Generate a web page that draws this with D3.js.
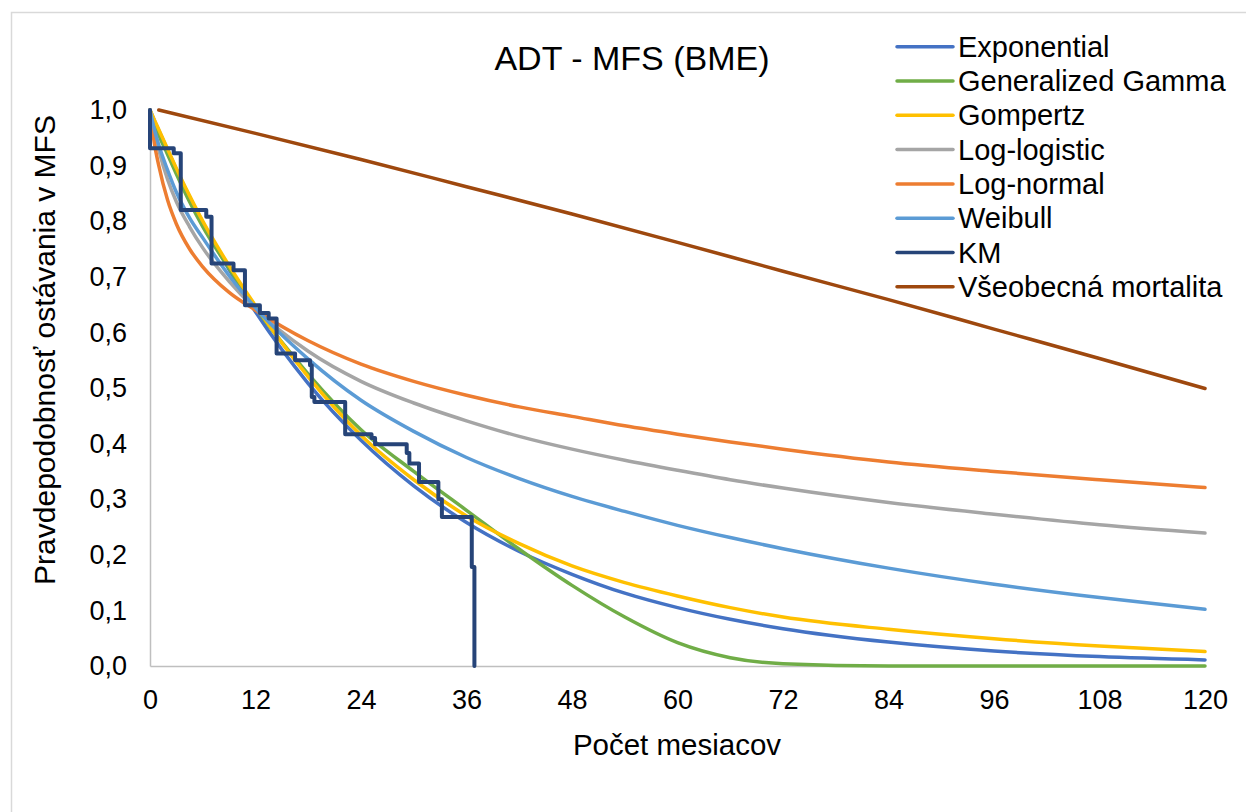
<!DOCTYPE html>
<html>
<head>
<meta charset="utf-8">
<script src="https://cdn.jsdelivr.net/npm/d3@7"></script>
<style>
  body { margin: 0; background: #fff; }
  svg text { font-family: "Liberation Sans", Arial, Helvetica, sans-serif; fill: #000; }
</style>
</head>
<body>
<svg id="chart" width="1246" height="812"></svg>
<script>
// Údaje odčítané z grafu
const months = [0, 0.5, 1, 2, 3, 4.5, 6, 9, 12, 18, 24, 30, 36, 42, 48, 54, 60, 66, 72, 84, 96, 108, 120];

const exponential = [1, 0.981, 0.963, 0.928, 0.893, 0.844, 0.798, 0.713, 0.637, 0.508, 0.406, 0.324, 0.258, 0.206, 0.165, 0.131, 0.105, 0.084, 0.067, 0.043, 0.027, 0.017, 0.011];
const genGamma = [1, 0.975, 0.955, 0.92, 0.885, 0.835, 0.79, 0.715, 0.645, 0.525, 0.425, 0.35, 0.28, 0.21, 0.145, 0.088, 0.042, 0.015, 0.004, 0, 0, 0, 0];
const gompertz = [1, 0.982, 0.965, 0.93, 0.895, 0.846, 0.8, 0.72, 0.648, 0.52, 0.415, 0.335, 0.27, 0.22, 0.18, 0.15, 0.126, 0.105, 0.088, 0.066, 0.049, 0.036, 0.026];
const logLogistic = [1, 0.96, 0.928, 0.875, 0.835, 0.79, 0.752, 0.692, 0.642, 0.566, 0.512, 0.473, 0.441, 0.413, 0.39, 0.37, 0.352, 0.335, 0.32, 0.294, 0.273, 0.254, 0.239];
const logNormal = [1, 0.94, 0.9, 0.838, 0.795, 0.75, 0.718, 0.672, 0.64, 0.585, 0.543, 0.512, 0.487, 0.466, 0.449, 0.432, 0.417, 0.403, 0.39, 0.367, 0.35, 0.335, 0.321];
const weibull = [1, 0.965, 0.937, 0.892, 0.852, 0.806, 0.77, 0.702, 0.644, 0.552, 0.478, 0.422, 0.375, 0.337, 0.305, 0.278, 0.253, 0.231, 0.211, 0.176, 0.147, 0.123, 0.102];

const kmMonths = [0, 0, 2.7, 3.5, 6.4, 7.0, 9.5, 10.8, 12.5, 13.5, 14.4, 16.5, 18.2, 18.4, 18.7, 22.2, 25.2, 25.6, 29.2, 29.5, 30.6, 32.8, 33.2, 36.6, 36.9];
const kmValues = [1, 0.931, 0.922, 0.82, 0.808, 0.724, 0.712, 0.649, 0.635, 0.625, 0.562, 0.55, 0.541, 0.484, 0.475, 0.417, 0.41, 0.399, 0.383, 0.364, 0.331, 0.3, 0.268, 0.178, 0];

const mortMonths = [1, 12, 24, 36, 48, 60, 72, 84, 96, 108, 120];
const mortValues = [1, 0.958, 0.911, 0.862, 0.813, 0.762, 0.71, 0.659, 0.606, 0.553, 0.499];

const xTicks = [0, 12, 24, 36, 48, 60, 72, 84, 96, 108, 120];
const yTicks = [0, 0.1, 0.2, 0.3, 0.4, 0.5, 0.6, 0.7, 0.8, 0.9, 1.0];

const seriesNames = ["Exponential", "Generalized Gamma", "Gompertz", "Log-logistic", "Log-normal", "Weibull", "KM", "Všeobecná mortalita"];
const seriesColors = ["#4472C4", "#70AD47", "#FFC000", "#A5A5A5", "#ED7D31", "#5B9BD5", "#264478", "#9E480E"];

// Zostavenie sérií
const zipPts = (xs, ys) => xs.map((m, i) => ({ m: m, v: ys[i] }));
const series = [
  { pts: zipPts(months, exponential), curve: d3.curveMonotoneX },
  { pts: zipPts(months, genGamma), curve: d3.curveMonotoneX },
  { pts: zipPts(months, gompertz), curve: d3.curveMonotoneX },
  { pts: zipPts(months, logLogistic), curve: d3.curveMonotoneX },
  { pts: zipPts(months, logNormal), curve: d3.curveMonotoneX },
  { pts: zipPts(months, weibull), curve: d3.curveMonotoneX },
  { pts: zipPts(kmMonths, kmValues), curve: d3.curveStepAfter },
  { pts: zipPts(mortMonths, mortValues), curve: d3.curveMonotoneX }
];
series.forEach((s, i) => { s.name = seriesNames[i]; s.color = seriesColors[i]; });

const svg = d3.select("#chart");

// Rámček grafu
svg.append("rect")
  .attr("x", 11.5).attr("y", 12.5)
  .attr("width", 1250).attr("height", 820)
  .attr("fill", "#fff")
  .attr("stroke", "#D9D9D9")
  .attr("stroke-width", 1.5);

const x = d3.scaleLinear().domain([0, 120]).range([150, 1205]);
const y = d3.scaleLinear().domain([0, 1]).range([666, 110]);

const sk = d3.formatLocale({ decimal: ",", thousands: " ", grouping: [3], currency: ["", " €"] });
const fmt = sk.format(".1f");

// Osi
const xAxis = svg.append("g")
  .attr("transform", `translate(0,${y(0)})`)
  .call(d3.axisBottom(x).tickValues(xTicks).tickSize(0).tickPadding(24).tickFormat(d3.format("d")));
const yAxis = svg.append("g")
  .attr("transform", `translate(${x(0)},0)`)
  .call(d3.axisLeft(y).tickValues(yTicks).tickSize(0).tickPadding(23).tickFormat(fmt));

[xAxis, yAxis].forEach(a => {
  a.select(".domain").attr("stroke", "#BFBFBF").attr("stroke-width", 1.5);
  a.selectAll("text").attr("font-size", 27).attr("fill", "#000");
});

// Čiary
const line = d3.line().x(d => x(d.m)).y(d => y(d.v));
svg.append("g")
  .selectAll("path")
  .data(series)
  .enter().append("path")
  .attr("d", d => line.curve(d.curve)(d.pts))
  .attr("fill", "none")
  .attr("stroke", d => d.color)
  .attr("stroke-width", d => d.name === "KM" ? 4 : 3.5)
  .attr("stroke-linejoin", "round")
  .attr("stroke-linecap", "round");

// Nadpisy
svg.append("text")
  .attr("x", 632).attr("y", 70)
  .attr("text-anchor", "middle")
  .attr("font-size", 34)
  .text("ADT - MFS (BME)");

svg.append("text")
  .attr("x", 677).attr("y", 755)
  .attr("text-anchor", "middle")
  .attr("font-size", 29.5)
  .text("Počet mesiacov");

svg.append("text")
  .attr("transform", "translate(55,350) rotate(-90)")
  .attr("text-anchor", "middle")
  .attr("font-size", 30)
  .text("Pravdepodobnosť ostávania v MFS");

// Legenda
const legend = svg.append("g")
  .selectAll("g")
  .data(series)
  .enter().append("g")
  .attr("transform", (d, i) => `translate(897,${46.7 + i * 34.3})`);

legend.append("line")
  .attr("x1", 0).attr("x2", 56)
  .attr("stroke", d => d.color)
  .attr("stroke-width", 3.5)
  .attr("stroke-linecap", "round");

legend.append("text")
  .attr("x", 61)
  .attr("dy", "0.35em")
  .attr("font-size", 29)
  .text(d => d.name);
</script>
</body>
</html>
